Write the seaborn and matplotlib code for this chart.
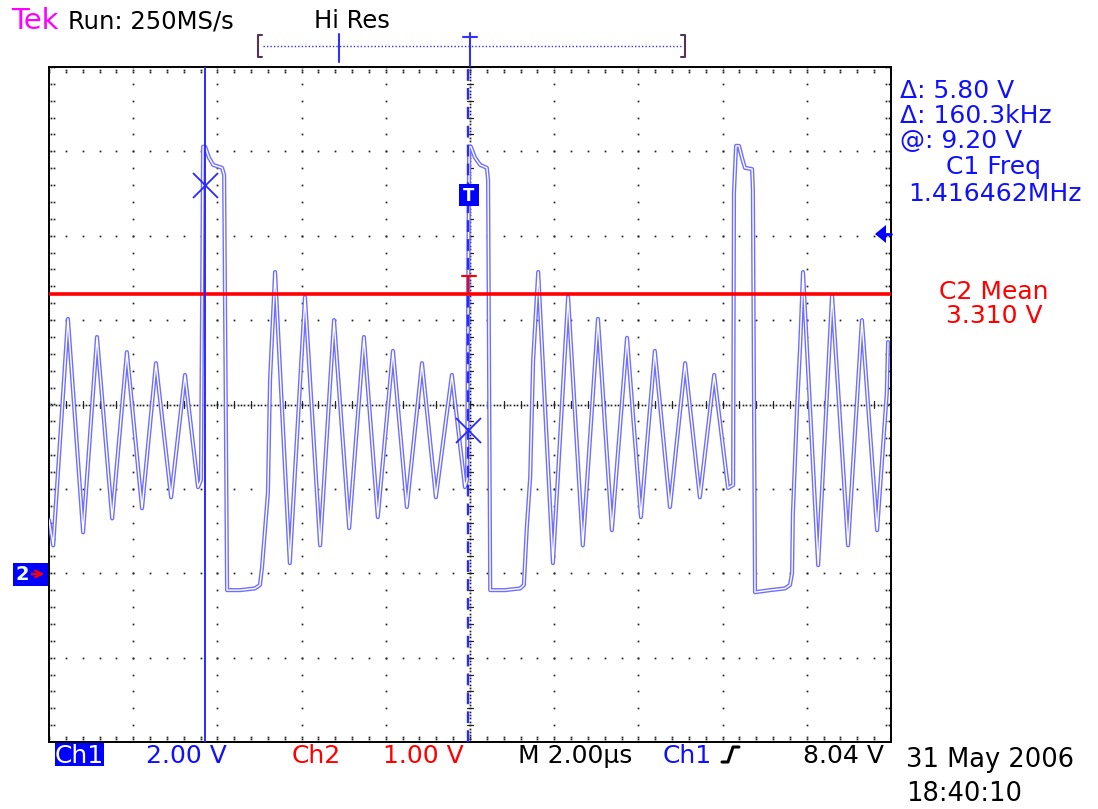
import numpy as np
import pandas as pd
import matplotlib
matplotlib.use("Agg")
import matplotlib.pyplot as plt
from matplotlib.patches import Rectangle, Polygon
import seaborn as sns

# ---------------- data ----------------
# Channel 1 (2.00 V/div), time in microseconds from the left screen edge
ch1_time_us = [0.00, 0.10, 0.45, 0.81, 1.14, 1.50, 1.85, 2.21, 2.54, 2.90, 3.23, 3.54,
               3.61, 3.66, 3.71, 3.80, 3.90, 4.11, 4.16, 4.23, 4.54, 4.89, 5.01,
               5.06, 5.20, 5.25, 5.37, 5.72, 6.08, 6.44, 6.77, 7.13, 7.48, 7.81,
               8.17, 8.50, 8.86, 9.19, 9.57, 9.88,
               9.93, 9.98, 10.02, 10.12, 10.24, 10.40, 10.43, 10.48, 10.83, 11.19, 11.28,
               11.35, 11.43, 11.50, 11.62, 11.97, 12.33, 12.68, 13.04, 13.37, 13.73,
               14.06, 14.39, 14.75, 15.11, 15.46, 15.80, 16.13,
               16.25, 16.27, 16.32, 16.39, 16.46, 16.53, 16.70, 16.72, 16.77, 17.13, 17.48, 17.60,
               17.65, 17.67, 17.77, 17.84, 17.91, 18.27, 18.60, 18.98, 19.31, 19.67, 19.90, 19.93]
ch1_volts = [1.26, 0.66, 6.03, 0.97, 5.60, 1.30, 5.24, 1.54, 4.98, 1.80, 4.70, 2.04,
             2.21, 10.11, 10.11, 9.85, 9.68, 9.61, 9.44, -0.40, -0.40, -0.36, -0.28,
             0.14, 1.90, 4.58, 7.14, 0.24, 6.55, 0.66, 6.00, 1.07, 5.60, 1.33,
             5.27, 1.57, 4.98, 1.80, 4.70, 2.04,
             2.21, 10.11, 10.11, 9.85, 9.68, 9.61, 9.32, -0.40, -0.40, -0.36, -0.28,
             1.09, 2.28, 5.05, 7.14, 0.24, 6.55, 0.66, 6.03, 1.02, 5.58,
             1.33, 5.27, 1.57, 4.98, 1.80, 4.70, 2.02,
             2.09, 9.02, 10.13, 10.13, 9.85, 9.61, 9.58, 9.09, -0.45, -0.40, -0.36, -0.28,
             0.00, 1.42, 3.94, 5.34, 7.14, 0.19, 6.60, 0.66, 6.00, 1.02, 4.27, 5.48]
# Channel 2 (1.00 V/div): flat at its mean
ch2_time_us = [0.0, 20.0]
ch2_volts = [3.31, 3.31]
# cursors
cursor_times_us = [3.70, 9.96]
cursor_volts = [9.20, 3.40]

CH1_VDIV, CH2_VDIV = 2.0, 1.0
GND_DIV = -2.0          # both ground markers sit 2 div below centre

# ---------------- figure ----------------
sns.set_theme(style="white")
plt.rcParams['font.family'] = ['DejaVu Sans']

W, H = 1098, 809
fig = plt.figure(figsize=(W / 100, H / 100), dpi=100)
fig.patch.set_facecolor('white')
L, R, Tp, B = 49, 891, 67, 742
ax = fig.add_axes([L / W, 1 - B / H, (R - L) / W, (B - Tp) / H])
ax.set_xlim(0, 20)
ax.set_ylim(-4, 4)
ax.set_facecolor('white')

# ---------------- graticule ----------------
GR = '#222222'
dot = dict(ls='none', marker='s', ms=1.25, mew=0, color=GR, zorder=1)
minor_x = np.arange(0, 20.001, 0.4)
minor_y = np.arange(-4, 4.001, 0.2)
for xv in range(2, 20, 2):
    if xv != 10:
        ax.plot(np.full(len(minor_y), xv), minor_y, **dot)
for yv in range(-3, 4):
    if yv != 0:
        ax.plot(minor_x, np.full(len(minor_x), yv), **dot)
fine_x = np.arange(0, 20.001, 0.08)
fine_y = np.arange(-4, 4.001, 0.04)
ax.plot(fine_x, np.zeros_like(fine_x), **dot)
ax.plot(np.full_like(fine_y, 10), fine_y, **dot)
for xv in minor_x:
    ax.plot([xv, xv], [-0.045, 0.045], color=GR, lw=0.9, zorder=1)
for yv in minor_y:
    ax.plot([10 - 0.08, 10 + 0.08], [yv, yv], color=GR, lw=0.9, zorder=1)
for off in (0.05, 0.11):
    ax.plot(np.full_like(minor_y, off), minor_y, **dot)
    ax.plot(np.full_like(minor_y, 20 - off), minor_y, **dot)
for off in (0.03, 0.065):
    ax.plot(minor_x, np.full_like(minor_x, 4 - off), **dot)
    ax.plot(minor_x, np.full_like(minor_x, -4 + off), **dot)

for s in ax.spines.values():
    s.set_visible(True)
    s.set_color('black')
    s.set_linewidth(1.4)
ax.set_xticks([])
ax.set_yticks([])

# ---------------- traces ----------------
df1 = pd.DataFrame({'t': ch1_time_us,
                    'div': np.array(ch1_volts) / CH1_VDIV + GND_DIV})
df2 = pd.DataFrame({'t': ch2_time_us,
                    'div': np.array(ch2_volts) / CH2_VDIV + GND_DIV})
sns.lineplot(data=df1, x='t', y='div', sort=False, estimator=None,
             color='#6f6fff', lw=3.0, ax=ax, zorder=3)
sns.lineplot(data=df1, x='t', y='div', sort=False, estimator=None,
             color='white', lw=1.0, ax=ax, zorder=3.1)
sns.lineplot(data=df2, x='t', y='div', sort=False, estimator=None,
             color='#ff0000', lw=2.6, ax=ax, zorder=4)
ax.set(xlabel='', ylabel='')

# cursors
CB = '#2a2aff'
ax.axvline(cursor_times_us[0], color=CB, lw=1.4, zorder=5)
ax.axvline(cursor_times_us[1], color=CB, lw=1.7, ls=(0, (5, 3)), zorder=5)
ax.plot(cursor_times_us, [v / CH1_VDIV + GND_DIV for v in cursor_volts], ls='none',
        marker='x', ms=18, mew=1.3, color=CB, zorder=6)

# ---------------- pixel-positioned overlay ----------------
ov = fig.add_axes([0, 0, 1, 1], zorder=5)
ov.set_xlim(0, W)
ov.set_ylim(H, 0)
ov.axis('off')
ov.patch.set_alpha(0)


def txt(x, y, s, color='black', size=18, ha='left', **kw):
    ov.text(x, y, s, color=color, fontsize=size, ha=ha, va='baseline', **kw)


BLUE = '#1010ff'
RED = '#ff0000'
txt(11, 29, 'Tek', color='#ff00ff', size=21)
txt(68, 28, 'Run: 250MS/s', size=17.5)
txt(314, 28, 'Hi Res', size=17.5)

txt(900, 98, 'Δ: 5.80 V', BLUE)
txt(900, 123, 'Δ: 160.3kHz', BLUE)
txt(900, 148, '@: 9.20 V', BLUE)
txt(993, 174, 'C1 Freq', BLUE, ha='center')
txt(995, 201, '1.416462MHz', BLUE, ha='center')
txt(994, 299, 'C2 Mean', RED, ha='center')
txt(994, 323, '3.310 V', RED, ha='center')

ov.add_patch(Rectangle((55, 743), 49, 23, facecolor='#0000ff', edgecolor='none'))
txt(79.5, 763, 'Ch1', 'white', ha='center')
txt(146, 763, '2.00 V', BLUE)
txt(292, 763, 'Ch2', RED)
txt(383, 763, '1.00 V', RED)
txt(518, 763, 'M 2.00µs')
txt(663, 763, 'Ch1', BLUE)
ov.plot([722, 728, 733, 739], [762, 762, 747, 747], color='black', lw=2.2)
txt(884, 763, '8.04 V', ha='right')
txt(906, 767, '31 May 2006', size=18.5)
txt(906, 801, '18:40:10', size=18.5)

# record bar at top
ov.plot([262, 258, 258, 262], [35, 35, 57, 57], color='#553355', lw=1.5)
ov.plot([681, 685, 685, 681], [35, 35, 57, 57], color='#553355', lw=1.5)
ov.plot([263, 681], [46, 46], color='#3030ff', lw=1.0, ls=(0, (1, 1.5)))
ov.plot([339, 339], [34, 62], color='#3030ff', lw=1.5)
ov.plot([470, 470], [33, 66], color='#3030ff', lw=1.5)
ov.plot([463, 477], [37, 37], color='#3030ff', lw=1.5)

# on-screen markers
ov.add_patch(Rectangle((459, 184), 20, 22, facecolor='#0000ff', edgecolor='none', zorder=7))
ov.text(469, 196, 'T', color='white', fontsize=12, fontweight='bold', ha='center', va='center', zorder=8)
ov.plot([462, 476], [276, 276], color=RED, lw=1.5)
ov.plot([468, 468], [276, 294], color=RED, lw=1.5)
ov.add_patch(Rectangle((13, 563), 35, 23, facecolor='#0000ff', edgecolor='none'))
ov.text(22, 575, '2', color='#e8ffe8', fontsize=14, fontweight='bold', ha='center', va='center')
ov.annotate('', xy=(47, 574), xytext=(29, 574),
            arrowprops=dict(arrowstyle='->', color=RED, lw=1.6))
ov.add_patch(Polygon([(875, 234), (886, 225), (886, 243)], closed=True,
                     facecolor='#0000ff', edgecolor='none'))
ov.plot([885, 891], [234, 234], color='#0000ff', lw=2.0)

fig.savefig('out.png', dpi=100, facecolor='white')
